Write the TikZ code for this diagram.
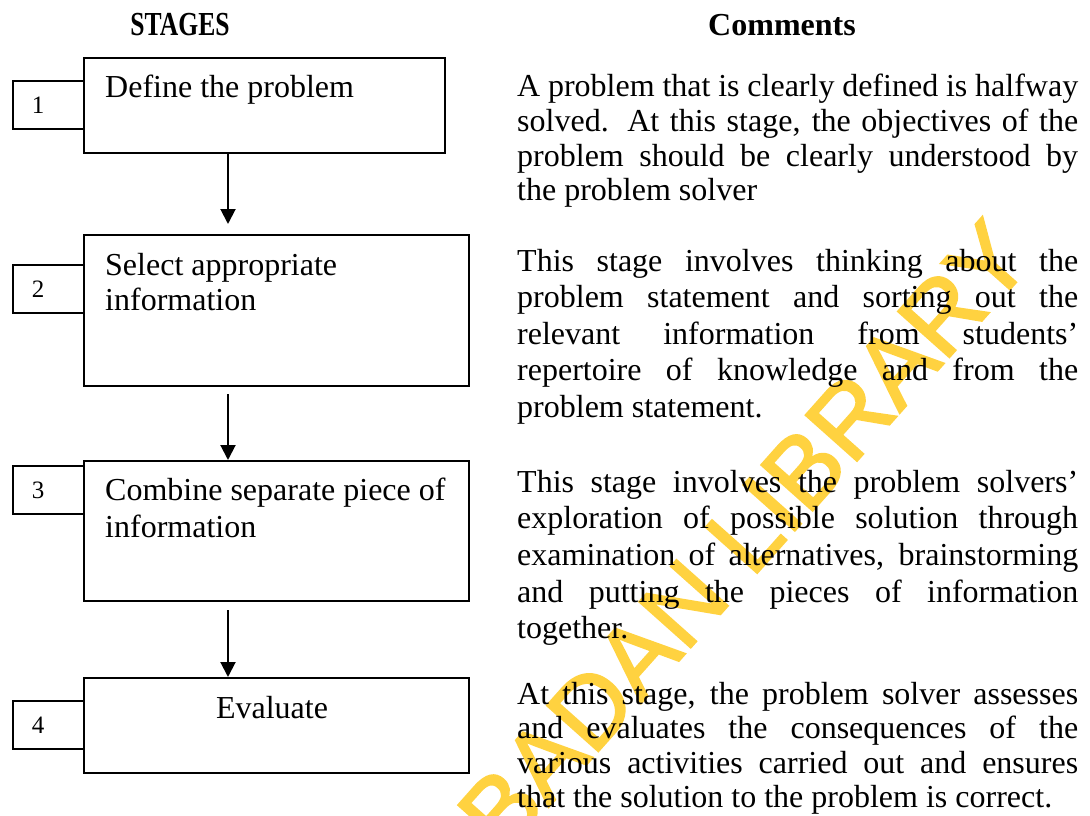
\documentclass[tikz,border=0pt]{standalone}
\usepackage{fontspec}
\setmainfont{Liberation Serif}
\newfontfamily\wmfont{Liberation Sans}[FakeBold=2]
\usetikzlibrary{arrows.meta,calc}
\definecolor{wmyellow}{RGB}{255,210,64}

% one justified line of a comment paragraph
\newcommand\jline[1]{\makebox[561pt][s]{#1}}

\tikzset{
  stagebox/.style={draw, line width=2pt, inner sep=0pt, anchor=north west},
  numbox/.style={draw, line width=2pt, inner sep=0pt, anchor=north west,
                 minimum width=71pt, minimum height=48pt},
  numtext/.style={inner sep=0pt, font=\fontsize{25}{25}\selectfont},
  boxtext/.style={anchor=base west, inner sep=0pt, font=\fontsize{32}{36}\selectfont},
  cline/.style={anchor=base west, inner sep=0pt, font=\fontsize{32}{36}\selectfont},
  heading/.style={inner sep=0pt, font=\bfseries\fontsize{32}{32}\selectfont},
  flow/.style={line width=2pt, -{Triangle[length=15pt,width=15pt]}},
  watermark/.style={inner sep=0pt, rotate=48.3, text=wmyellow,
                    font=\wmfont\fontsize{100}{100}\selectfont}
}

\begin{document}
\begin{tikzpicture}[x=1pt,y=-1pt]
\useasboundingbox (0,0) rectangle (1090,816);
\fill[white] (0,0) rectangle (1090,816);

% library watermark, behind everything else
\node[watermark] (wm) at (744,536) {BADAN LIBRARY};

% column headings
\node[heading] (hstages) at (180,25) {\scalebox{0.8}[1.05]{STAGES}};
\node[heading] (hcomments) at (782,25) {Comments};

% stage number tabs
\node[numbox] (n1) at (12,80) {};
\node[numbox] (n2) at (12,264) {};
\node[numbox] (n3) at (12,465) {};
\node[numbox] (n4) at (12,700) {};
\node[numtext] (t1) at ([xshift=26pt]n1.west) {1};
\node[numtext] (t2) at ([xshift=26pt]n2.west) {2};
\node[numtext] (t3) at ([xshift=26pt]n3.west) {3};
\node[numtext] (t4) at ([xshift=26pt]n4.west) {4};

% stage boxes
\node[stagebox, minimum width=361pt, minimum height=95pt] (b1) at (83,57) {};
\node[stagebox, minimum width=385pt, minimum height=151pt] (b2) at (83,234) {};
\node[stagebox, minimum width=385pt, minimum height=140pt] (b3) at (83,460) {};
\node[stagebox, minimum width=385pt, minimum height=95pt] (b4) at (83,677) {};

\node[boxtext] (s1) at (105,98) {Define the problem};
\node[boxtext] (s2a) at (105,275) {Select appropriate};
\node[boxtext] (s2b) at (105,310) {information};
\node[boxtext] (s3a) at (105,500) {Combine separate piece of};
\node[boxtext] (s3b) at (105,537) {information};
\node[boxtext, anchor=base] (s4) at (272,718) {Evaluate};

% flow arrows
\coordinate (ax) at (228,0);
\draw[flow] (b1.south -| ax) -- ($(b2.north -| ax)+(0,-10)$);
\draw[flow] ($(b2.south -| ax)+(0,7)$) -- (b3.north -| ax);
\draw[flow] ($(b3.south -| ax)+(0,8)$) -- (b4.north -| ax);

% comments
\node[cline] (c1a) at (517,96)  {\jline{A problem that is clearly defined is halfway}};
\node[cline] (c1b) at (517,131) {\jline{solved. At this stage, the objectives of the}};
\node[cline] (c1c) at (517,166) {\jline{problem should be clearly understood by}};
\node[cline] (c1d) at (517,200) {the problem solver};

\node[cline] (c2a) at (517,271) {\jline{This stage involves thinking about the}};
\node[cline] (c2b) at (517,307) {\jline{problem statement and sorting out the}};
\node[cline] (c2c) at (517,344) {\jline{relevant information from students’}};
\node[cline] (c2d) at (517,380) {\jline{repertoire of knowledge and from the}};
\node[cline] (c2e) at (517,417) {problem statement.};

\node[cline] (c3a) at (517,492) {\jline{This stage involves the problem solvers’}};
\node[cline] (c3b) at (517,528) {\jline{exploration of possible solution through}};
\node[cline] (c3c) at (517,565) {\jline{examination of alternatives, brainstorming}};
\node[cline] (c3d) at (517,602) {\jline{and putting the pieces of information}};
\node[cline] (c3e) at (517,638) {together.};

\node[cline] (c4a) at (517,704) {\jline{At this stage, the problem solver assesses}};
\node[cline] (c4b) at (517,738) {\jline{and evaluates the consequences of the}};
\node[cline] (c4c) at (517,773) {\jline{various activities carried out and ensures}};
\node[cline] (c4d) at (517,807) {that the solution to the problem is correct.};
\end{tikzpicture}
\end{document}
